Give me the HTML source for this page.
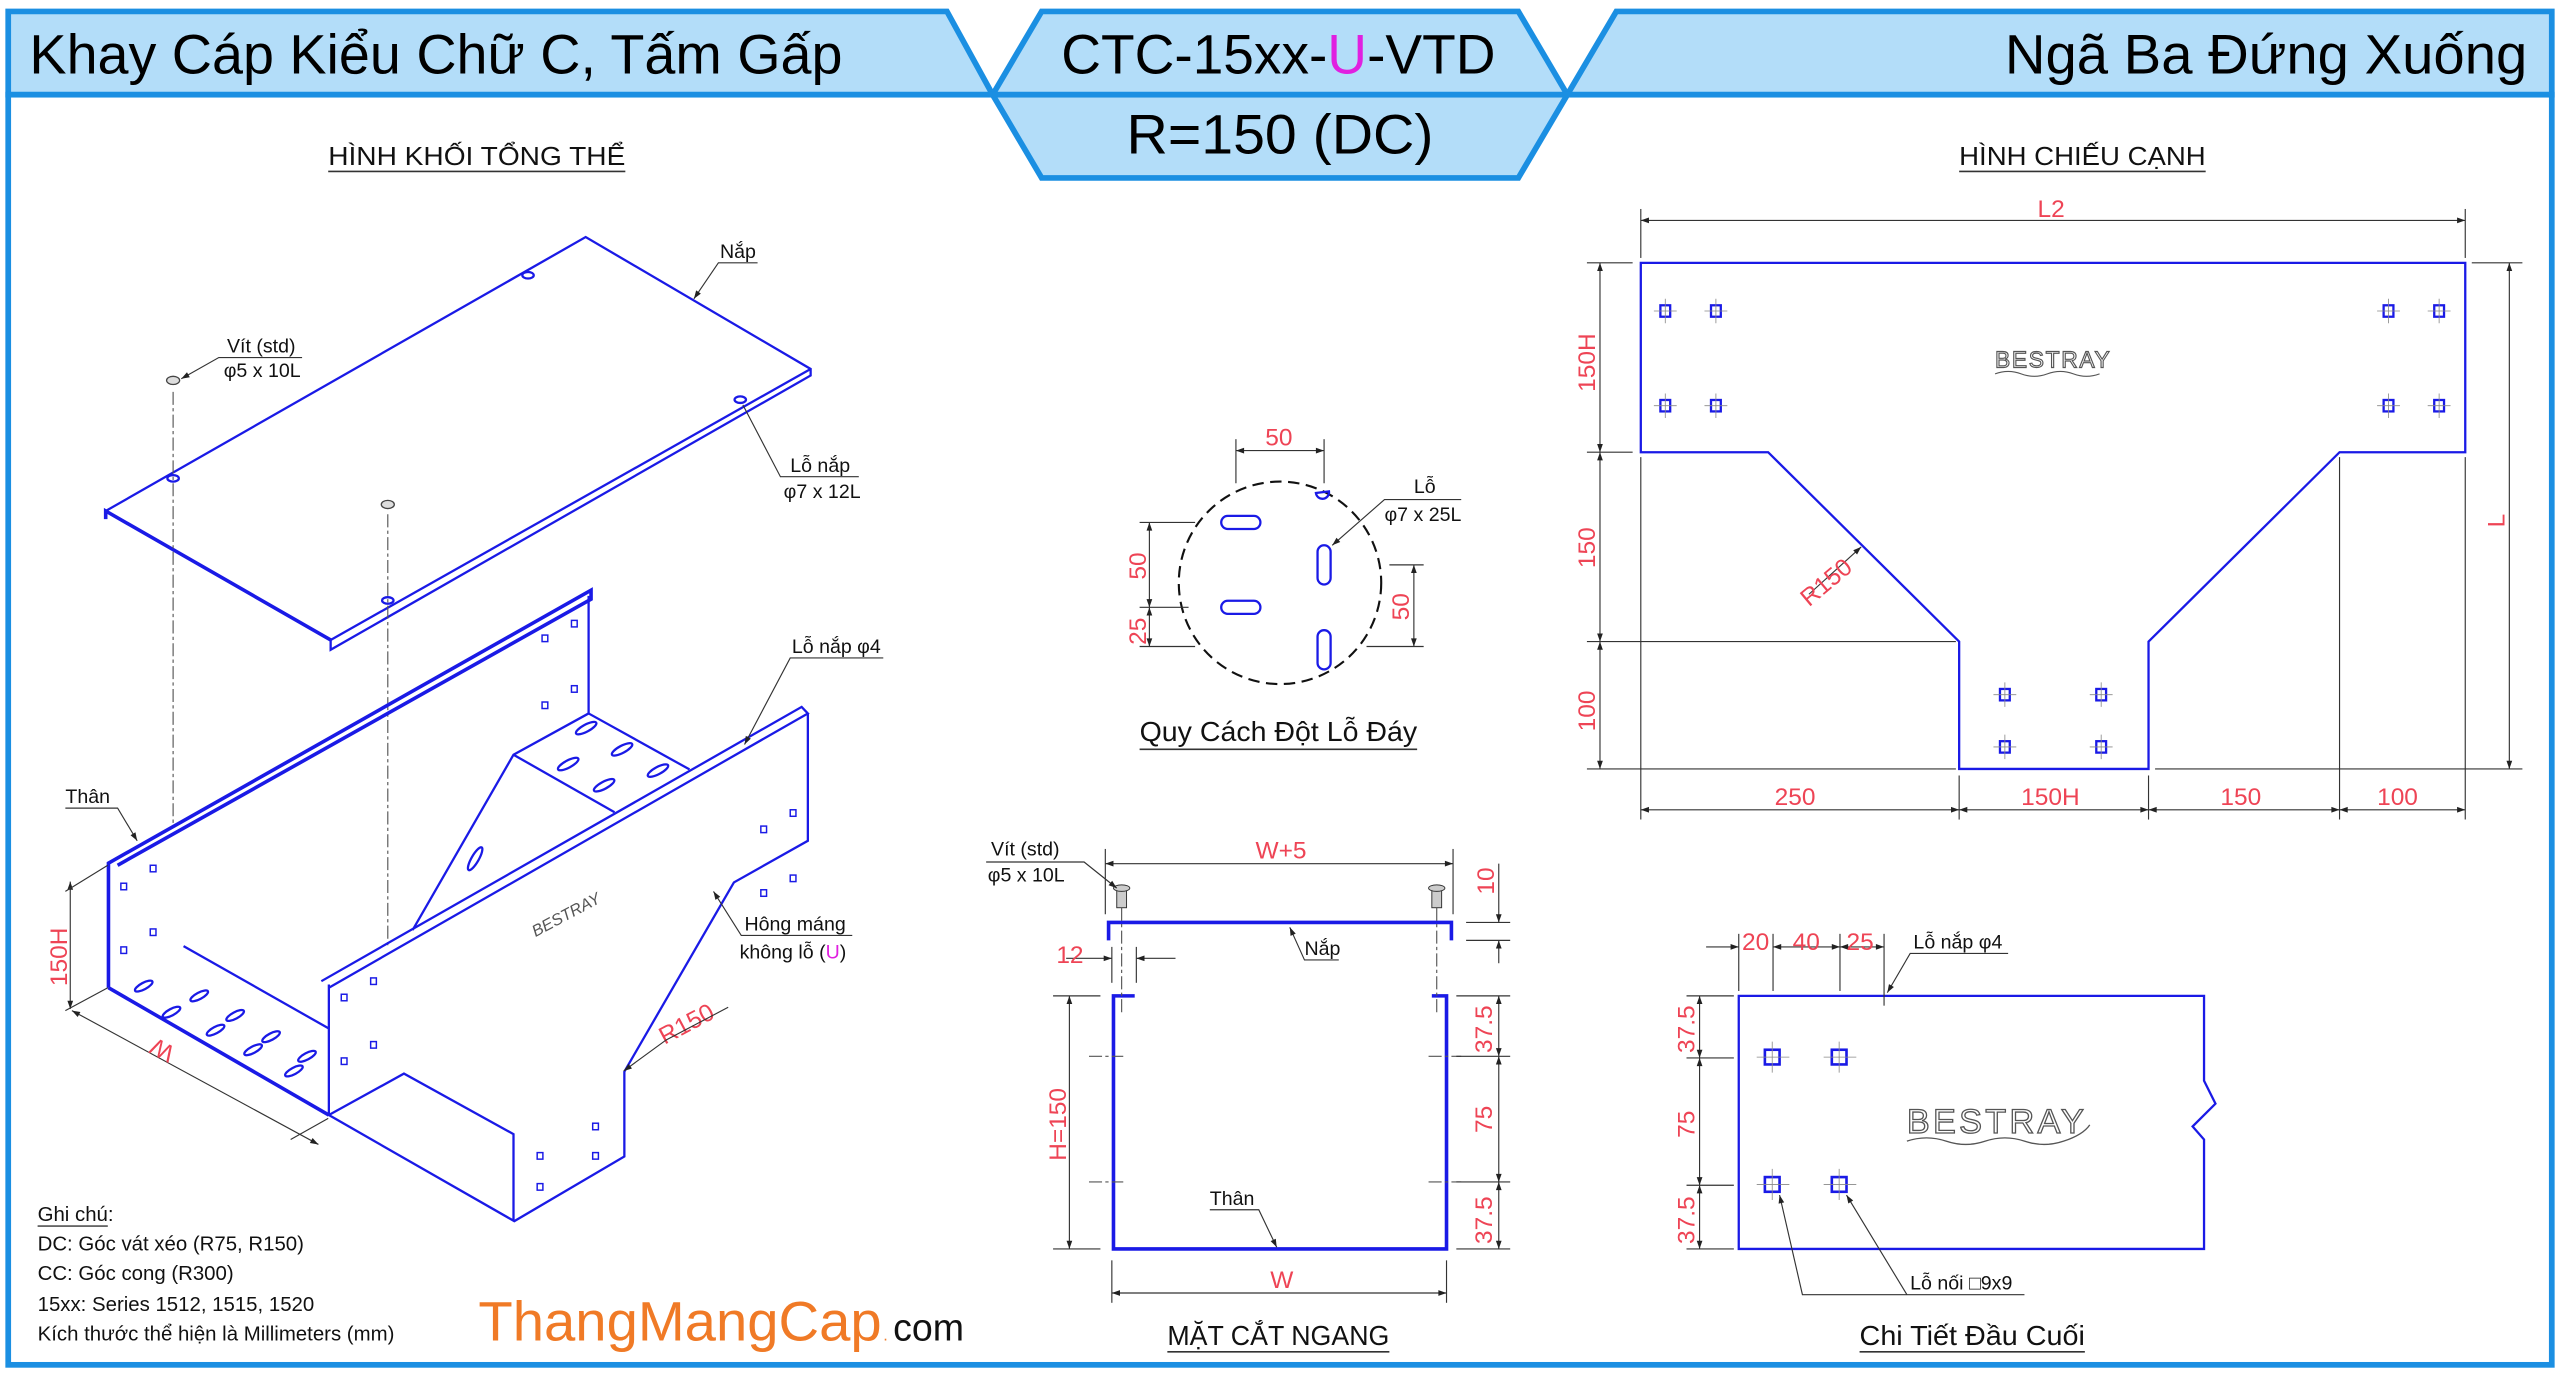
<!DOCTYPE html>
<html><head><meta charset="utf-8"><style>
html,body{margin:0;padding:0;background:#fff}
svg{display:block}
text{font-family:"Liberation Sans","DejaVu Sans",sans-serif}
.b{stroke:#1a1ae6;fill:none;stroke-width:1.4}
.bt{stroke:#1a1ae6;fill:none;stroke-width:2.2}
.d{stroke:#333;fill:none;stroke-width:0.7}
.dd{stroke:#555;fill:none;stroke-width:0.7;stroke-dasharray:8 2 2 2}
.r{fill:#ee4455;font-size:15px}
.k{fill:#111;font-size:12px}
.h{fill:#111;font-size:16px}
</style></head><body>
<svg width="2560" height="1373" viewBox="0 0 1568 841" xmlns="http://www.w3.org/2000/svg">
<defs>
<marker id="a" viewBox="0 0 10 10" refX="10" refY="5" markerWidth="9" markerHeight="5" orient="auto-start-reverse" markerUnits="userSpaceOnUse"><path d="M0,1.5 L10,5 L0,8.5z" fill="#222"/></marker>
</defs>
<rect width="1568" height="841" fill="#fff"/>
<!-- header -->
<g stroke="#1b8fe2" stroke-width="3.5" fill="#b3ddf9" stroke-linejoin="miter">
<polygon points="5,7 580,7 608,58 5,58"/>
<polygon points="638,7 930,7 960,58 930,109 638,109 608,58"/>
<polygon points="990,7 1563,7 1563,58 960,58"/>
</g>
<rect x="5" y="58" width="1558" height="778" fill="none" stroke="#1b8fe2" stroke-width="3.5"/>
<line x1="608" y1="58" x2="960" y2="58" stroke="#1b8fe2" stroke-width="3.5"/>
<text x="18" y="45" font-size="34" textLength="498" lengthAdjust="spacingAndGlyphs">Khay Cáp Kiểu Chữ C, Tấm Gấp</text>
<text x="650" y="45" font-size="34" textLength="266" lengthAdjust="spacingAndGlyphs">CTC-15xx-<tspan fill="#e020e0">U</tspan>-VTD</text>
<text x="690" y="94" font-size="34" textLength="188" lengthAdjust="spacingAndGlyphs">R=150 (DC)</text>
<text x="1228" y="45" font-size="34" textLength="320" lengthAdjust="spacingAndGlyphs">Ngã Ba Đứng Xuống</text>

<!-- titles -->
<text x="201" y="101" class="h" textLength="182" lengthAdjust="spacingAndGlyphs">HÌNH KHỐI TỔNG THỂ</text>
<line x1="201" y1="105" x2="383" y2="105" stroke="#333" stroke-width="1"/>
<text x="1200" y="101" class="h" textLength="151" lengthAdjust="spacingAndGlyphs">HÌNH CHIẾU CẠNH</text>
<line x1="1200" y1="105" x2="1351" y2="105" stroke="#333" stroke-width="1"/>

<!-- ISO: lid -->
<g class="b">
<polyline points="64.7,313 358.7,145.2 496.5,226 496.5,230 202.5,398 202.5,392"/>
<line x1="202.5" y1="392" x2="496.5" y2="226"/>
<polyline class="bt" points="64.7,318 64.7,313 202.5,392"/>
<ellipse cx="323.4" cy="168.6" rx="3.5" ry="2"/><ellipse cx="106" cy="293" rx="3.5" ry="2"/>
<ellipse cx="453.4" cy="244.8" rx="3.5" ry="2"/><ellipse cx="237.5" cy="367.8" rx="3.5" ry="2"/>
</g>
<line class="dd" x1="106" y1="240" x2="106" y2="507"/>
<line class="dd" x1="237.5" y1="315" x2="237.5" y2="581"/>
<g fill="#ddd" stroke="#444" stroke-width="0.8"><ellipse cx="106" cy="233" rx="4" ry="2.5"/><ellipse cx="237.5" cy="309" rx="4" ry="2.5"/></g>
<!-- ISO: body -->
<g class="b">
<polyline class="bt" points="66.4,605 66.4,528.7 362,361.5 362,367 72,530"/>
<line x1="360.5" y1="365" x2="360.5" y2="437"/>
<polyline points="66.4,605 201.4,683"/>
<polyline class="bt" points="66.4,605 201.4,683"/>
<line x1="112.4" y1="579.5" x2="201.4" y2="630"/>
<polyline points="196.8,601 491,433 494.8,437 201.4,605"/>
<line x1="201.4" y1="603" x2="201.4" y2="683"/>
<polyline points="494.8,437 494.8,515 449.5,540.5 382.4,656.4 382.4,708.4 315,748 201.4,683 247.4,657.6 314.5,694.7 314.5,748"/>
<polyline points="252.7,569.7 314.5,462.3 360.5,437"/>
<line x1="314.5" y1="462.3" x2="376.4" y2="497.5"/>
<line x1="360.5" y1="437" x2="422.3" y2="471.3"/>
</g>
<!-- slots -->
<g class="b" stroke-width="1">
<g transform="rotate(28)">
</g>
<ellipse cx="359" cy="446" rx="7" ry="2.2" transform="rotate(-28 359 446)"/>
<ellipse cx="381" cy="459" rx="7" ry="2.2" transform="rotate(-28 381 459)"/>
<ellipse cx="348" cy="468" rx="7" ry="2.2" transform="rotate(-28 348 468)"/>
<ellipse cx="370" cy="481" rx="7" ry="2.2" transform="rotate(-28 370 481)"/>
<ellipse cx="403" cy="472" rx="7" ry="2.2" transform="rotate(-28 403 472)"/>
<ellipse cx="291" cy="526" rx="8" ry="2.2" transform="rotate(-60 291 526)"/>
<ellipse cx="88" cy="604" rx="6" ry="2" transform="rotate(-28 88 604)"/>
<ellipse cx="122" cy="610" rx="6" ry="2" transform="rotate(-28 122 610)"/>
<ellipse cx="144" cy="622" rx="6" ry="2" transform="rotate(-28 144 622)"/>
<ellipse cx="166" cy="635" rx="6" ry="2" transform="rotate(-28 166 635)"/>
<ellipse cx="188" cy="647" rx="6" ry="2" transform="rotate(-28 188 647)"/>
<ellipse cx="105" cy="620" rx="6" ry="2" transform="rotate(-28 105 620)"/>
<ellipse cx="132" cy="631" rx="6" ry="2" transform="rotate(-28 132 631)"/>
<ellipse cx="155" cy="643" rx="6" ry="2" transform="rotate(-28 155 643)"/>
<ellipse cx="180" cy="656" rx="6" ry="2" transform="rotate(-28 180 656)"/>
</g>
<g fill="none" stroke="#1a1ae6" stroke-width="0.9">
<rect x="74" y="541" width="3.5" height="4"/><rect x="92" y="530" width="3.5" height="4"/>
<rect x="74" y="580" width="3.5" height="4"/><rect x="92" y="569" width="3.5" height="4"/>
<rect x="332" y="389" width="3.5" height="4"/><rect x="350" y="380" width="3.5" height="4"/>
<rect x="332" y="430" width="3.5" height="4"/><rect x="350" y="420" width="3.5" height="4"/>
<rect x="209" y="609" width="3.5" height="4"/><rect x="227" y="599" width="3.5" height="4"/>
<rect x="209" y="648" width="3.5" height="4"/><rect x="227" y="638" width="3.5" height="4"/>
<rect x="466" y="506" width="3.5" height="4"/><rect x="484" y="496" width="3.5" height="4"/>
<rect x="466" y="545" width="3.5" height="4"/><rect x="484" y="536" width="3.5" height="4"/>
<rect x="329" y="706" width="3.5" height="4"/><rect x="363" y="688" width="3.5" height="4"/>
<rect x="329" y="725" width="3.5" height="4"/><rect x="363" y="706" width="3.5" height="4"/>
</g>
<text x="328" y="574" font-size="10" fill="#555" font-style="italic" transform="rotate(-28 328 574)">BESTRAY</text>
<!-- iso dims -->
<line class="d" x1="43" y1="540" x2="43" y2="618" marker-start="url(#a)" marker-end="url(#a)"/>
<line class="d" x1="40" y1="619" x2="66" y2="605"/><line class="d" x1="40" y1="546" x2="66" y2="530"/>
<text class="r" x="0" y="0" transform="translate(41,604) rotate(-90)">150H</text>
<line class="d" x1="44" y1="619" x2="195" y2="701" marker-start="url(#a)" marker-end="url(#a)"/>
<line class="d" x1="201" y1="685" x2="178" y2="698"/>
<text class="r" transform="translate(108,642) rotate(208)">W</text>
<text class="r" transform="translate(407,640) rotate(-28)">R150</text>
<polyline class="d" points="446,617 408,637 382,656" marker-end="url(#a)"/>
<!-- iso labels -->
<text class="k" x="441" y="158">Nắp</text><polyline class="d" points="464,161 440,161 425,183" marker-end="url(#a)"/>
<text class="k" x="139" y="216">Vít (std)</text><text class="k" x="137" y="231">φ5 x 10L</text>
<polyline class="d" points="185,219 134,219 111,232" marker-end="url(#a)"/>
<text class="k" x="484" y="289">Lỗ nắp</text><text class="k" x="480" y="305">φ7 x 12L</text>
<polyline class="d" points="526,292 478,292 455,248"/>
<text class="k" x="485" y="400">Lỗ nắp φ4</text>
<polyline class="d" points="541,403 484,403 456,456" marker-end="url(#a)"/>
<text class="k" x="40" y="492">Thân</text><polyline class="d" points="40,495 72,495 84,515" marker-end="url(#a)"/>
<text class="k" x="456" y="570">Hông máng</text><text class="k" x="453" y="587">không lỗ (<tspan fill="#e020e0">U</tspan>)</text>
<polyline class="d" points="522,573 454,573 437,546" marker-end="url(#a)"/>
<!-- notes -->
<g font-size="12.5" fill="#111">
<text x="23" y="748">Ghi chú:</text>
<text x="23" y="766">DC: Góc vát xéo (R75, R150)</text>
<text x="23" y="784">CC: Góc cong (R300)</text>
<text x="23" y="803">15xx: Series 1512, 1515, 1520</text>
<text x="23" y="821">Kích thước thể hiện là Millimeters (mm)</text>
</g>
<line x1="23" y1="751" x2="66" y2="751" stroke="#333" stroke-width="0.8"/>
<text x="293" y="821" font-size="34" fill="#f07a26" textLength="247" lengthAdjust="spacingAndGlyphs">ThangMangCap</text>
<text x="541" y="821" font-size="10" fill="#f07a26">.</text>
<text x="547" y="821" font-size="23" fill="#111">com</text>

<!-- hole pattern -->
<circle cx="784" cy="357" r="62" fill="none" stroke="#111" stroke-width="1.3" stroke-dasharray="7 4"/>
<g class="b" stroke-width="1.6">
<rect x="748" y="316" width="24" height="8" rx="4"/><rect x="748" y="368" width="24" height="8" rx="4"/>
<rect x="807" y="334" width="8" height="24" rx="4"/><rect x="807" y="386" width="8" height="24" rx="4"/>
<path d="M806,302 a4,4 0 0 0 8,-1 z"/>
</g>
<line class="d" x1="757" y1="276" x2="811" y2="276" marker-start="url(#a)" marker-end="url(#a)"/>
<line class="d" x1="757" y1="269" x2="757" y2="296"/><line class="d" x1="811" y1="269" x2="811" y2="296"/>
<text class="r" x="775" y="273">50</text>
<line class="d" x1="704" y1="320" x2="704" y2="372" marker-start="url(#a)" marker-end="url(#a)"/>
<line class="d" x1="704" y1="372" x2="704" y2="396" marker-start="url(#a)" marker-end="url(#a)"/>
<line class="d" x1="698" y1="320" x2="732" y2="320"/><line class="d" x1="698" y1="372" x2="728" y2="372"/><line class="d" x1="698" y1="396" x2="732" y2="396"/>
<text class="r" transform="translate(702,355) rotate(-90)">50</text>
<text class="r" transform="translate(702,395) rotate(-90)">25</text>
<line class="d" x1="866" y1="346" x2="866" y2="396" marker-start="url(#a)" marker-end="url(#a)"/>
<line class="d" x1="851" y1="346" x2="872" y2="346"/><line class="d" x1="837" y1="396" x2="872" y2="396"/>
<text class="r" transform="translate(863,380) rotate(-90)">50</text>
<text class="k" x="866" y="302">Lỗ</text><text class="k" x="848" y="319">φ7 x 25L</text>
<polyline class="d" points="895,306 848,306 816,334" marker-end="url(#a)"/>
<text x="698" y="454" font-size="17" fill="#111" textLength="170" lengthAdjust="spacingAndGlyphs">Quy Cách Đột Lỗ Đáy</text>
<line x1="698" y1="459" x2="868" y2="459" stroke="#333" stroke-width="1"/>

<!-- cross section -->
<g class="bt">
<polyline points="679,576 679,565 889,565 889,576"/>
<polyline points="695,610 682,610 682,765 886,765 886,610 877,610"/>
</g>
<g stroke="#333" fill="#ccc" stroke-width="0.6">
<rect x="684" y="545" width="6" height="11"/><ellipse cx="687" cy="544" rx="5" ry="2"/>
<rect x="877" y="545" width="6" height="11"/><ellipse cx="880" cy="544" rx="5" ry="2"/>
</g>
<line class="dd" x1="687" y1="556" x2="687" y2="620"/><line class="dd" x1="880" y1="556" x2="880" y2="620"/>
<line class="dd" x1="667" y1="647" x2="688" y2="647"/><line class="dd" x1="875" y1="647" x2="895" y2="647"/>
<line class="dd" x1="667" y1="724" x2="688" y2="724"/><line class="dd" x1="875" y1="724" x2="895" y2="724"/>
<line class="d" x1="677" y1="529" x2="890" y2="529" marker-start="url(#a)" marker-end="url(#a)"/>
<line class="d" x1="677" y1="520" x2="677" y2="560"/><line class="d" x1="890" y1="520" x2="890" y2="560"/>
<text class="r" x="769" y="526">W+5</text>
<text class="k" x="607" y="524">Vít (std)</text><text class="k" x="605" y="540">φ5 x 10L</text>
<polyline class="d" points="604,528 664,528 684,544" marker-end="url(#a)"/>
<line class="d" x1="653" y1="587" x2="681" y2="587" marker-end="url(#a)"/><line class="d" x1="720" y1="587" x2="696" y2="587" marker-end="url(#a)"/>
<line class="d" x1="681" y1="580" x2="681" y2="602"/><line class="d" x1="696" y1="580" x2="696" y2="602"/>
<text class="r" x="647" y="590">12</text>
<line class="d" x1="918" y1="529" x2="918" y2="565" marker-end="url(#a)"/>
<line class="d" x1="918" y1="590" x2="918" y2="576" marker-end="url(#a)"/>
<line class="d" x1="898" y1="565" x2="925" y2="565"/><line class="d" x1="898" y1="576" x2="925" y2="576"/>
<text class="r" transform="translate(915,548) rotate(-90)">10</text>
<line class="d" x1="918" y1="610" x2="918" y2="647" marker-start="url(#a)" marker-end="url(#a)"/>
<line class="d" x1="918" y1="647" x2="918" y2="724" marker-start="url(#a)" marker-end="url(#a)"/>
<line class="d" x1="918" y1="724" x2="918" y2="765" marker-start="url(#a)" marker-end="url(#a)"/>
<line class="d" x1="892" y1="610" x2="925" y2="610"/><line class="d" x1="892" y1="647" x2="925" y2="647"/>
<line class="d" x1="892" y1="724" x2="925" y2="724"/><line class="d" x1="892" y1="765" x2="925" y2="765"/>
<text class="r" transform="translate(914,645) rotate(-90)">37.5</text>
<text class="r" transform="translate(914,694) rotate(-90)">75</text>
<text class="r" transform="translate(914,762) rotate(-90)">37.5</text>
<line class="d" x1="655" y1="610" x2="655" y2="765" marker-start="url(#a)" marker-end="url(#a)"/>
<line class="d" x1="645" y1="610" x2="674" y2="610"/><line class="d" x1="645" y1="765" x2="674" y2="765"/>
<text class="r" transform="translate(653,711) rotate(-90)">H=150</text>
<line class="d" x1="681" y1="792" x2="886" y2="792" marker-start="url(#a)" marker-end="url(#a)"/>
<line class="d" x1="681" y1="772" x2="681" y2="798"/><line class="d" x1="886" y1="772" x2="886" y2="798"/>
<text class="r" x="778" y="789">W</text>
<text class="k" x="799" y="585">Nắp</text><polyline class="d" points="820,588 799,588 790,568" marker-end="url(#a)"/>
<text class="k" x="741" y="738">Thân</text><polyline class="d" points="741,741 771,741 782,764" marker-end="url(#a)"/>
<text x="715" y="824" font-size="17" fill="#111" textLength="136" lengthAdjust="spacingAndGlyphs">MẶT CẮT NGANG</text>
<line x1="715" y1="828" x2="851" y2="828" stroke="#333" stroke-width="1"/>

<!-- side view -->
<polygon class="b" stroke-width="1.8" points="1005,161 1510,161 1510,277 1433,277 1316,393 1316,471 1200,471 1200,393 1083,277 1005,277"/>
<g fill="none" stroke="#1a1ae6" stroke-width="1.4">
<rect x="1017" y="187" width="6" height="7"/><rect x="1048" y="187" width="6" height="7"/>
<rect x="1017" y="245" width="6" height="7"/><rect x="1048" y="245" width="6" height="7"/>
<rect x="1460" y="187" width="6" height="7"/><rect x="1491" y="187" width="6" height="7"/>
<rect x="1460" y="245" width="6" height="7"/><rect x="1491" y="245" width="6" height="7"/>
<rect x="1225" y="422" width="6" height="7"/><rect x="1284" y="422" width="6" height="7"/>
<rect x="1225" y="454" width="6" height="7"/><rect x="1284" y="454" width="6" height="7"/>
</g>
<g stroke="#888" stroke-width="0.5">
<path d="M1013,190.5h14M1020,183v15M1044,190.5h14M1051,183v15M1013,248.5h14M1020,241v15M1044,248.5h14M1051,241v15M1456,190.5h14M1463,183v15M1487,190.5h14M1494,183v15M1456,248.5h14M1463,241v15M1487,248.5h14M1494,241v15M1221,425.5h14M1228,418v15M1280,425.5h14M1287,418v15M1221,457.5h14M1228,450v15M1280,457.5h14M1287,450v15"/>
</g>
<text x="1222" y="225" font-size="14" fill="#fff" stroke="#555" stroke-width="0.7" letter-spacing="1">BESTRAY</text>
<path d="M1222,229 q8,-3 16,0 t16,0 t16,0 t16,0" fill="none" stroke="#555" stroke-width="0.7"/>
<line class="d" x1="1005" y1="135" x2="1510" y2="135" marker-start="url(#a)" marker-end="url(#a)"/>
<line class="d" x1="1005" y1="128" x2="1005" y2="158"/><line class="d" x1="1510" y1="128" x2="1510" y2="158"/>
<text class="r" x="1248" y="133">L2</text>
<line class="d" x1="980" y1="161" x2="980" y2="277" marker-start="url(#a)" marker-end="url(#a)"/>
<line class="d" x1="980" y1="277" x2="980" y2="393" marker-start="url(#a)" marker-end="url(#a)"/>
<line class="d" x1="980" y1="393" x2="980" y2="471" marker-start="url(#a)" marker-end="url(#a)"/>
<line class="d" x1="972" y1="161" x2="1000" y2="161"/><line class="d" x1="972" y1="277" x2="1000" y2="277"/>
<line class="d" x1="972" y1="393" x2="1198" y2="393"/><line class="d" x1="972" y1="471" x2="1198" y2="471"/>
<text class="r" transform="translate(977,240) rotate(-90)">150H</text>
<text class="r" transform="translate(977,348) rotate(-90)">150</text>
<text class="r" transform="translate(977,448) rotate(-90)">100</text>
<line class="d" x1="1537" y1="161" x2="1537" y2="471" marker-start="url(#a)" marker-end="url(#a)"/>
<line class="d" x1="1514" y1="161" x2="1545" y2="161"/><line class="d" x1="1320" y1="471" x2="1545" y2="471"/>
<text class="r" transform="translate(1534,323) rotate(-90)">L</text>
<line class="d" x1="1005" y1="496" x2="1200" y2="496" marker-start="url(#a)" marker-end="url(#a)"/>
<line class="d" x1="1200" y1="496" x2="1316" y2="496" marker-start="url(#a)" marker-end="url(#a)"/>
<line class="d" x1="1316" y1="496" x2="1433" y2="496" marker-start="url(#a)" marker-end="url(#a)"/>
<line class="d" x1="1433" y1="496" x2="1510" y2="496" marker-start="url(#a)" marker-end="url(#a)"/>
<line class="d" x1="1005" y1="280" x2="1005" y2="502"/><line class="d" x1="1200" y1="475" x2="1200" y2="502"/>
<line class="d" x1="1316" y1="475" x2="1316" y2="502"/><line class="d" x1="1433" y1="280" x2="1433" y2="502"/><line class="d" x1="1510" y1="280" x2="1510" y2="502"/>
<text class="r" x="1087" y="493">250</text><text class="r" x="1238" y="493">150H</text>
<text class="r" x="1360" y="493">150</text><text class="r" x="1456" y="493">100</text>
<line class="d" x1="1108" y1="364" x2="1140" y2="335" marker-end="url(#a)"/>
<text class="r" transform="translate(1108,372) rotate(-40)">R150</text>

<!-- end detail -->
<polygon class="b" stroke-width="1.8" points="1065,610 1350,610 1350,662 1357,676 1343,690 1350,698 1350,765 1065,765"/>
<g fill="none" stroke="#1a1ae6" stroke-width="1.6">
<rect x="1081" y="643" width="9" height="9"/><rect x="1122" y="643" width="9" height="9"/>
<rect x="1081" y="721" width="9" height="9"/><rect x="1122" y="721" width="9" height="9"/>
</g>
<g stroke="#888" stroke-width="0.5">
<path d="M1076,647.5h20M1085.5,638v19M1117,647.5h20M1126.5,638v19M1076,725.5h20M1085.5,716v19M1117,725.5h20M1126.5,716v19"/>
</g>
<text x="1168" y="694" font-size="21" fill="#fff" stroke="#555" stroke-width="0.8" letter-spacing="2">BESTRAY</text>
<path d="M1168,699 q12,-4 24,0 t24,0 t24,0 t24,0 t16,-10" fill="none" stroke="#555" stroke-width="0.8"/>
<line class="d" x1="1045" y1="580" x2="1065" y2="580" marker-end="url(#a)"/>
<line class="d" x1="1086" y1="580" x2="1127" y2="580" marker-start="url(#a)" marker-end="url(#a)"/>
<line class="d" x1="1127" y1="580" x2="1154" y2="580" marker-start="url(#a)" marker-end="url(#a)"/>
<line class="d" x1="1065" y1="572" x2="1065" y2="607"/><line class="d" x1="1086" y1="572" x2="1086" y2="607"/>
<line class="d" x1="1127" y1="572" x2="1127" y2="607"/><line class="d" x1="1154" y1="572" x2="1154" y2="616"/>
<text class="r" x="1067" y="582">20</text><text class="r" x="1098" y="582">40</text><text class="r" x="1131" y="582">25</text>
<text class="k" x="1172" y="581">Lỗ nắp φ4</text>
<polyline class="d" points="1230,584 1170,584 1156,608" marker-end="url(#a)"/>
<line class="d" x1="1041" y1="610" x2="1041" y2="648" marker-start="url(#a)" marker-end="url(#a)"/>
<line class="d" x1="1041" y1="648" x2="1041" y2="726" marker-start="url(#a)" marker-end="url(#a)"/>
<line class="d" x1="1041" y1="726" x2="1041" y2="765" marker-start="url(#a)" marker-end="url(#a)"/>
<line class="d" x1="1033" y1="610" x2="1062" y2="610"/><line class="d" x1="1033" y1="648" x2="1062" y2="648"/>
<line class="d" x1="1033" y1="726" x2="1062" y2="726"/><line class="d" x1="1033" y1="765" x2="1062" y2="765"/>
<text class="r" transform="translate(1038,645) rotate(-90)">37.5</text>
<text class="r" transform="translate(1038,697) rotate(-90)">75</text>
<text class="r" transform="translate(1038,762) rotate(-90)">37.5</text>
<text class="k" x="1170" y="790">Lỗ nối □9x9</text>
<polyline class="d" points="1240,793 1104,793 1090,732" marker-end="url(#a)"/>
<polyline class="d" points="1168,793 1131,732" marker-end="url(#a)"/>
<text x="1139" y="824" font-size="17" fill="#111" textLength="138" lengthAdjust="spacingAndGlyphs">Chi Tiết Đầu Cuối</text>
<line x1="1139" y1="828" x2="1277" y2="828" stroke="#333" stroke-width="1"/>
</svg>
</body></html>
